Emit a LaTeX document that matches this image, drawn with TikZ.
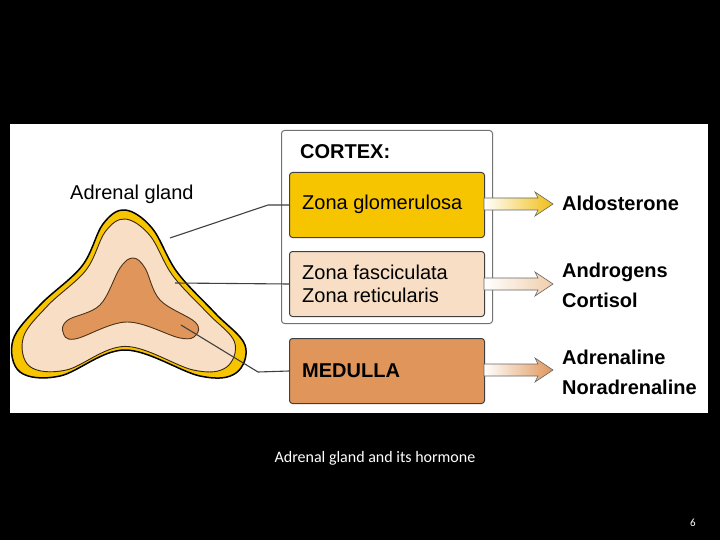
\documentclass[tikz,border=0pt]{standalone}
\usepackage{fontspec}
\setmainfont{Liberation Sans}
\newfontfamily\capfont{Carlito}
\begin{document}
\begin{tikzpicture}[x=1pt,y=-1pt,
  zbox/.style={draw=black!75,line width=1pt,rounded corners=3pt,minimum width=195pt,minimum height=65pt,anchor=north west},
  ztxt/.style={font=\fontsize{20}{23}\selectfont,align=left,anchor=west,inner sep=0},
  htxt/.style={font=\bfseries\fontsize{20}{30}\selectfont,align=left,anchor=west,inner sep=0},
  lead/.style={draw=black!75,line width=1.1pt},
  harrow/.style={draw=black!60,line width=0.6pt,left color=white}]
\useasboundingbox (0,0) rectangle (720,540);
\fill[black] (0,0) rectangle (720,540);
\fill[white] (10,124) rectangle (708,413);
% gland
\def\outer{plot[smooth cycle,tension=0.6] coordinates{(125,210) (152,228) (177,272) (215,313) (245,345) (236,373) (200,376) (125,350) (60,376) (20,372) (13,340) (40,305) (82,266) (103,224)}}
\fill[fill={rgb,255:red,247;green,196;blue,0},draw=black,line width=1.5pt] \outer;
\begin{scope}[shift={(128,310)},scale=0.91,shift={(-128,-310)}]
\fill[fill={rgb,255:red,248;green,222;blue,196},draw=black!70!brown,line width=0.9pt] \outer;
\end{scope}
\fill[fill={rgb,255:red,224;green,150;blue,90},draw=black!60!brown,line width=0.9pt] plot[smooth cycle,tension=0.6] coordinates{(133,258) (145,268) (160,300) (195,322) (196,335) (180,338) (127,322) (75,339) (63,332) (68,320) (100,305) (120,268)};
\coordinate (g1) at (170,238);
\coordinate (g2) at (175,283);
\coordinate (g3) at (181,325);
\node[font=\fontsize{20}{23}\selectfont,anchor=west,inner sep=0] (lab) at (70,194) {Adrenal gland};
% boxes
\node[draw=black!55,line width=1pt,rounded corners=3pt,minimum width=211pt,minimum height=193pt,anchor=north west] (cortex) at (281,130) {};
\node[font=\bfseries\fontsize{20}{23}\selectfont,anchor=west,inner sep=0] (ctitle) at (300,152) {CORTEX:};
\node[zbox,fill={rgb,255:red,247;green,196;blue,0}] (zg) at (289,172) {};
\node[zbox,fill={rgb,255:red,248;green,222;blue,196}] (zf) at (289,251) {};
\node[zbox,fill={rgb,255:red,224;green,150;blue,90}] (med) at (289,338) {};
\node[ztxt] (tg) at (302,204) {Zona glomerulosa};
\node[ztxt] (tf) at (302,284) {Zona fasciculata\\Zona reticularis};
\node[ztxt,font=\bfseries\fontsize{20}{23}\selectfont] (tm) at (302,371) {MEDULLA};
% leaders
\draw[lead] (g1) -- (268,205) -- (zg.west);
\draw[lead] (g2) -- (zf.west);
\draw[lead] (g3) -- (258,372) -- (med.west);
% arrows
\foreach \y/\c in {204/{rgb,255:red,240;green,190;blue,20}, 284/{rgb,255:red,240;green,205;blue,170}, 370/{rgb,255:red,224;green,150;blue,90}}{
  \path[harrow,right color=\c] (484,\y-6) -- (538,\y-6) -- (535,\y-12) -- (553,\y) -- (535,\y+12) -- (538,\y+6) -- (484,\y+6) -- cycle;
}
\node[htxt] (h1) at (562,203) {Aldosterone};
\node[htxt] (h2) at (562,285) {Androgens\\Cortisol};
\node[htxt] (h3) at (562,372) {Adrenaline\\Noradrenaline};
\node[white,font=\capfont\fontsize{16}{18}\selectfont] (cap) at (375,458) {Adrenal gland and its hormone};
\node[white,font=\capfont\fontsize{11}{13}\selectfont] (pg) at (693,523) {6};
\end{tikzpicture}
\end{document}
